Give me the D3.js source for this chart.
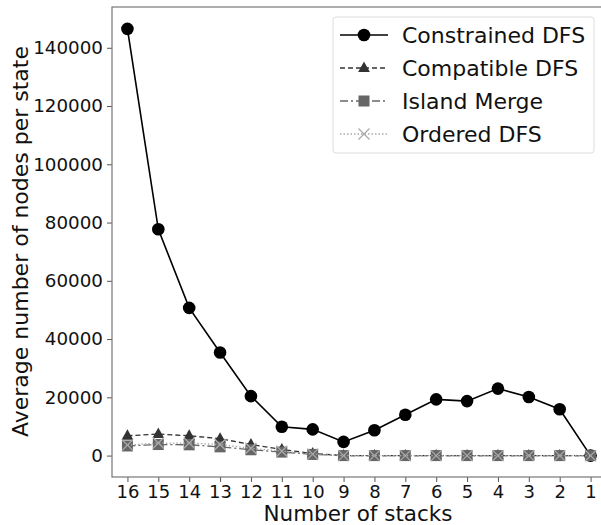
<!DOCTYPE html>
<html>
<head>
<meta charset="utf-8">
<script src="https://cdn.jsdelivr.net/npm/d3@7"></script>
<style>
  body { margin: 0; background: #fff; }
  svg { font-family: "DejaVu Sans", sans-serif; }
</style>
</head>
<body>
<div id="vis"></div>
<script>
const FRAME_WIDTH = 601;
const FRAME_HEIGHT = 525;
const PLOT = {left: 112, right: 606, top: 7, bottom: 477};

// data
const stacks = [16, 15, 14, 13, 12, 11, 10, 9, 8, 7, 6, 5, 4, 3, 2, 1];
const constrainedDFS = [146500, 77700, 50700, 35400, 20400, 9900, 9000, 4700, 8700, 14000, 19300, 18700, 23000, 20100, 15900, 0];
const compatibleDFS = [6800, 7400, 6800, 5800, 3800, 2100, 700, 0, 0, 0, 0, 0, 0, 0, 0, 0];
const islandMerge = [3300, 3800, 3700, 3000, 2000, 1200, 400, 0, 0, 0, 0, 0, 0, 0, 0, 0];
const orderedDFS = [3600, 4300, 4300, 3800, 2500, 1500, 500, 0, 0, 0, 0, 0, 0, 0, 0, 0];
const yTicks = [0, 20000, 40000, 60000, 80000, 100000, 120000, 140000];

const series = [
  {name: "Constrained DFS", values: constrainedDFS, color: "#000", dash: null, width: 1.6, marker: "circle"},
  {name: "Compatible DFS", values: compatibleDFS, color: "#333", dash: "5,3", width: 1.3, marker: "triangle"},
  {name: "Island Merge", values: islandMerge, color: "#666", dash: "8,3,2,3", width: 1.3, marker: "square"},
  {name: "Ordered DFS", values: orderedDFS, color: "#aaa", dash: "1.5,2", width: 1.3, marker: "x"}
];

const svg = d3.select("#vis")
  .append("svg")
    .attr("width", FRAME_WIDTH)
    .attr("height", FRAME_HEIGHT);

const X_SCALE = d3.scaleLinear()
  .domain([16.5, 0.5])
  .range([PLOT.left, PLOT.right]);

const Y_SCALE = d3.scaleLinear()
  .domain([-7350, 154000])
  .range([PLOT.bottom, PLOT.top]);

function drawMarker(g, type, color, x, y) {
  if (type === "circle") {
    g.append("circle").attr("cx", x).attr("cy", y).attr("r", 6.3).attr("fill", color);
  } else if (type === "triangle") {
    const s = 6.5;
    g.append("path")
      .attr("d", `M${x},${y - s} L${x + s * 0.9},${y + s * 0.6} L${x - s * 0.9},${y + s * 0.6} Z`)
      .attr("fill", color);
  } else if (type === "square") {
    g.append("rect").attr("x", x - 5.5).attr("y", y - 5.5)
      .attr("width", 11).attr("height", 11).attr("fill", color);
  } else {
    const s = 5.5;
    g.append("path")
      .attr("d", `M${x - s},${y - s} L${x + s},${y + s} M${x - s},${y + s} L${x + s},${y - s}`)
      .attr("stroke", color).attr("stroke-width", 1.3).attr("fill", "none");
  }
}

// clip so the right edge runs off like in the picture
svg.append("clipPath").attr("id", "clip")
  .append("rect").attr("x", PLOT.left).attr("y", PLOT.top - 10)
  .attr("width", PLOT.right - PLOT.left + 10).attr("height", PLOT.bottom - PLOT.top + 20);

const plot = svg.append("g").attr("clip-path", "url(#clip)");

const line = d3.line()
  .x((d, i) => X_SCALE(stacks[i]))
  .y(d => Y_SCALE(d));

series.forEach(s => {
  plot.append("path")
    .datum(s.values)
    .attr("d", line)
    .attr("fill", "none")
    .attr("stroke", s.color)
    .attr("stroke-width", s.width)
    .attr("stroke-dasharray", s.dash);
  const mg = plot.append("g");
  s.values.forEach((v, i) => drawMarker(mg, s.marker, s.color, X_SCALE(stacks[i]), Y_SCALE(v)));
});

// axes
const xAxis = svg.append("g")
  .attr("transform", `translate(0,${PLOT.bottom})`)
  .call(d3.axisBottom(X_SCALE).tickValues(stacks).tickFormat(d3.format("d")).tickSize(5).tickPadding(3));
xAxis.select(".domain").remove();
xAxis.attr("font-size", null).attr("font-family", null);
xAxis.selectAll("text").attr("font-size", 18).attr("fill", "#111");
xAxis.selectAll("line").attr("stroke", "#555");

const yAxis = svg.append("g")
  .attr("transform", `translate(${PLOT.left},0)`)
  .call(d3.axisLeft(Y_SCALE).tickValues(yTicks).tickFormat(d3.format("d")).tickSize(5).tickPadding(4));
yAxis.select(".domain").remove();
yAxis.attr("font-size", null).attr("font-family", null);
yAxis.selectAll("text").attr("font-size", 18.3).attr("fill", "#111");
yAxis.selectAll("line").attr("stroke", "#555");

// spines
svg.append("rect")
  .attr("x", PLOT.left).attr("y", PLOT.top)
  .attr("width", PLOT.right - PLOT.left).attr("height", PLOT.bottom - PLOT.top)
  .attr("fill", "none").attr("stroke", "#777").attr("stroke-width", 1.2);

// axis titles
svg.append("text")
  .attr("x", 358).attr("y", 521)
  .attr("text-anchor", "middle").attr("font-size", 21.5).attr("fill", "#111")
  .text("Number of stacks");

svg.append("text")
  .attr("transform", `translate(28,241.5) rotate(-90)`)
  .attr("text-anchor", "middle").attr("font-size", 22).attr("fill", "#111")
  .text("Average number of nodes per state");

// legend
const legend = svg.append("g");
legend.append("rect")
  .attr("x", 333).attr("y", 17).attr("width", 261).attr("height", 136)
  .attr("rx", 3).attr("fill", "#fff").attr("fill-opacity", 0.85)
  .attr("stroke", "#ddd");

series.forEach((s, i) => {
  const y = 35 + i * 33;
  legend.append("line")
    .attr("x1", 340).attr("x2", 388).attr("y1", y).attr("y2", y)
    .attr("stroke", s.color).attr("stroke-width", s.width)
    .attr("stroke-dasharray", s.dash);
  drawMarker(legend, s.marker, s.color, 364, y);
  legend.append("text")
    .attr("x", 402).attr("y", y + 8)
    .attr("font-size", 22).attr("fill", "#111")
    .text(s.name);
});
</script>
</body>
</html>
